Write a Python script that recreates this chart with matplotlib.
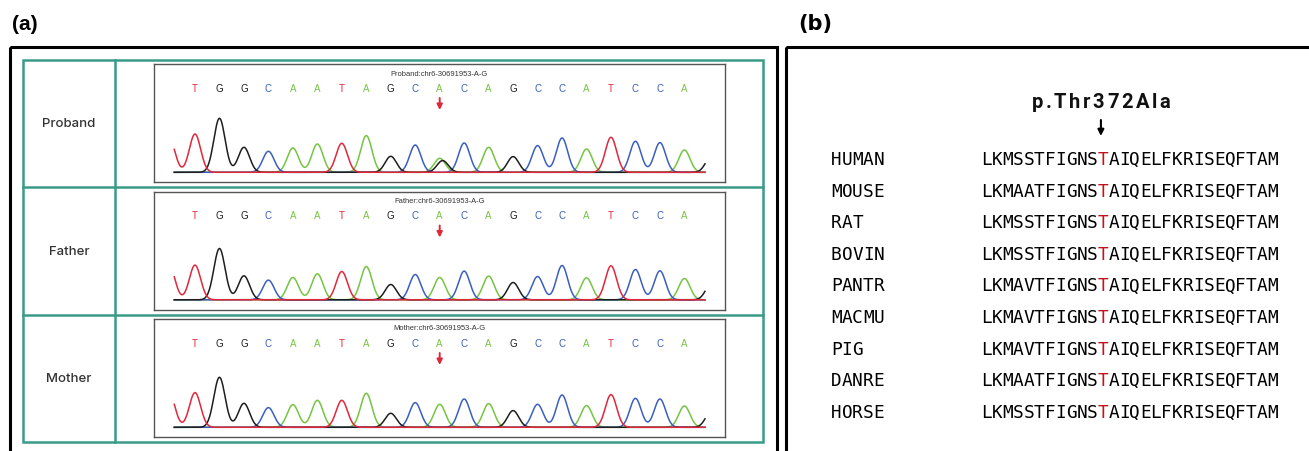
import numpy as np
import matplotlib.pyplot as plt
from matplotlib.patches import Rectangle
from matplotlib.font_manager import FontProperties
from matplotlib.textpath import TextToPath

# ---------------- data ----------------
bases = list("TGGCAATAGCACAGCCATCCA")
variant_idx = 10
variant = 'chr6-30691953-A-G'
samples = ['Proband', 'Father', 'Mother']

# peak heights (pixels above baseline)
proband_heights = [38.3, 54.0, 25.0, 21.0, 24.3, 28.3, 29.0, 36.7, 16.0, 27.3, 14.0,
                   29.3, 25.0, 15.7, 26.7, 34.3, 23.3, 35.0, 31.0, 29.7, 22.3]
father_heights = [34.7, 51.3, 24.0, 19.7, 22.3, 26.0, 28.3, 33.3, 15.3, 25.3, 22.3,
                  28.7, 23.7, 17.3, 23.3, 34.3, 22.0, 34.0, 30.3, 29.0, 21.3]
mother_heights = [34.7, 50.0, 24.0, 19.7, 22.7, 27.0, 27.0, 34.0, 14.0, 24.7, 23.0,
                  28.3, 23.7, 16.7, 23.0, 32.3, 21.7, 32.7, 29.0, 28.3, 21.3]
# extra peaks: (sample, base, position, height)
extra_peaks = [('Proband', 'G', 10.12, 11.7)]
lead_peak = ('T', -1.05, 34.0)
trail_peak = ('G', 21.1, 16.0)

species = ['HUMAN', 'MOUSE', 'RAT', 'BOVIN', 'PANTR', 'MACMU', 'PIG', 'DANRE', 'HORSE']
sequences = ['LKMSSTFIGNSTAIQELFKRISEQFTAM',
             'LKMAATFIGNSTAIQELFKRISEQFTAM',
             'LKMSSTFIGNSTAIQELFKRISEQFTAM',
             'LKMSSTFIGNSTAIQELFKRISEQFTAM',
             'LKMAVTFIGNSTAIQELFKRISEQFTAM',
             'LKMAVTFIGNSTAIQELFKRISEQFTAM',
             'LKMAVTFIGNSTAIQELFKRISEQFTAM',
             'LKMAATFIGNSTAIQELFKRISEQFTAM',
             'LKMSSTFIGNSTAIQELFKRISEQFTAM']
hl_pos = 11
mutation = 'p.Thr372Ala'

# ---------------- style ----------------
W, H, DPI = 1309, 452, 100
base_col = {'T': '#e0283c', 'G': '#1e1e1e', 'C': '#3b5fc0', 'A': '#76c442'}
teal = '#3a9c88'
SIG = 0.23

fig = plt.figure(figsize=(W / DPI, H / DPI), dpi=DPI)
bg = fig.add_axes([0, 0, 1, 1])
bg.set_xlim(0, W)
bg.set_ylim(H, 0)
bg.axis('off')

# panel labels
bg.text(25, 24, '(a)', fontsize=15, fontweight='bold', family='Liberation Sans',
        ha='center', va='center')
bg.text(815, 24, '(b)', fontsize=15, fontweight='bold', family='DejaVu Sans',
        ha='center', va='center')

# outer frames
bg.add_patch(Rectangle((10, 47.5), 767, 440, fill=False, lw=2.2, ec='black'))
bg.add_patch(Rectangle((785.5, 47.5), 600, 440, fill=False, lw=2.2, ec='black'))

# teal table
t_left, t_right, t_top, row_h, col_x = 22.7, 763.3, 60.7, 127.5, 115
bg.add_patch(Rectangle((t_left, t_top), t_right - t_left, 3 * row_h,
                       fill=False, lw=1.8, ec=teal))
for r in (1, 2):
    bg.plot([t_left, t_right], [t_top + r * row_h] * 2, color=teal, lw=1.8)
bg.plot([col_x, col_x], [t_top, t_top + 3 * row_h], color=teal, lw=1.8)

all_heights = {'Proband': proband_heights, 'Father': father_heights,
               'Mother': mother_heights}

# chromatograms
x0_px, dx_px, base_px = 195.0, 24.47, 173.3
bl, br, bt, bb = 153.7, 725.3, 65.3, 183.0
xs = np.linspace(-0.846, 20.84, 1500)
for r, name in enumerate(samples):
    off = r * row_h
    bg.text((t_left + col_x) / 2, t_top + off + row_h / 2, name, fontsize=9.5,
            family='Inter', fontweight='medium', color='#333333',
            ha='center', va='center')
    ax = fig.add_axes([bl / W, 1 - (bb + off) / H, (br - bl) / W, (bb - bt) / H])
    ax.set_xlim((bl - x0_px) / dx_px, (br - x0_px) / dx_px)
    ax.set_ylim(-(bb - base_px), base_px - bt)
    ax.set_xticks([])
    ax.set_yticks([])
    for s in ax.spines.values():
        s.set_color('#555555')
        s.set_linewidth(1.0)

    hts = all_heights[name]
    peaks = {b: ([], []) for b in 'ACGT'}
    for i, (b, h) in enumerate(zip(bases, hts)):
        peaks[b][0].append(i)
        peaks[b][1].append(h)
    for smp, b, p, h in extra_peaks:
        if smp == name:
            peaks[b][0].append(p)
            peaks[b][1].append(h)
    for b, p, h in (lead_peak, trail_peak):
        peaks[b][0].append(p)
        peaks[b][1].append(h)

    for b in 'ACGT':
        pos, hh = peaks[b]
        y = np.zeros_like(xs)
        for p, h in zip(pos, hh):
            y += h * np.exp(-0.5 * ((xs - p) / SIG) ** 2)
        ax.plot(xs, y, color=base_col[b], lw=1.1)

    for i, b in enumerate(bases):
        ax.text(i, base_px - 88.7, b, color=base_col[b], fontsize=7,
                family='Liberation Sans', ha='center', va='center')
    ax.text(np.mean(ax.get_xlim()), base_px - 74, f'{name}:{variant}',
            fontsize=5.4, family='Liberation Sans', color='#333333',
            ha='center', va='center')
    ax.annotate('', xy=(variant_idx, base_px - 111), xytext=(variant_idx, base_px - 99),
                arrowprops=dict(arrowstyle='-|>', color='#e0283c', lw=1.4,
                                mutation_scale=8, shrinkA=0, shrinkB=0))

# ---------------- panel (b) ----------------
seq_x0, name_x0, adv = 986.3, 836.3, 10.6
row_y0, row_dy = 165.0, 31.6
mono = dict(family='DejaVu Sans Mono', fontsize=12.8, va='baseline', ha='center')
for r, (sp, seq) in enumerate(zip(species, sequences)):
    y = row_y0 + r * row_dy
    for i, c in enumerate(sp):
        bg.text(name_x0 + i * adv, y, c, color='black', **mono)
    for i, c in enumerate(seq):
        bg.text(seq_x0 + i * adv, y, c,
                color='#c0151b' if i == hl_pos else 'black', **mono)

# mutation label with letter spacing
hl_x = seq_x0 + hl_pos * adv
fp = FontProperties(family='Roboto', weight='bold', size=14.5)
ttp = TextToPath()
widths = [ttp.get_text_width_height_descent(c, fp, ismath=False)[0] * DPI / 72
          for c in mutation]
target = 139.0
track = (target - sum(widths)) / (len(mutation) - 1)
x = hl_x - 2 - target / 2
for c, w in zip(mutation, widths):
    bg.text(x, 108, c, fontproperties=fp, ha='left', va='baseline', color='#111111')
    x += w + track

bg.annotate('', xy=(hl_x - 2, 137), xytext=(hl_x - 2, 121),
            arrowprops=dict(arrowstyle='-|>', color='black', lw=1.5,
                            mutation_scale=9, shrinkA=0, shrinkB=0))

plt.savefig('out.png', dpi=DPI)
